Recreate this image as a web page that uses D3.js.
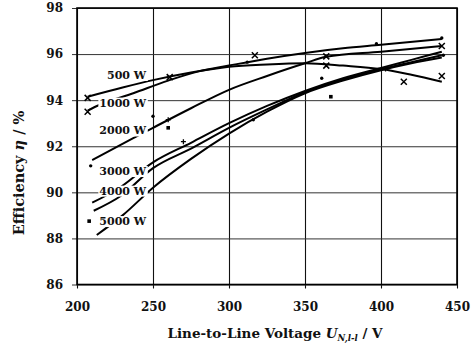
<!DOCTYPE html>
<html>
<head>
<meta charset="utf-8">
<script src="https://cdn.jsdelivr.net/npm/d3@7"></script>
<style>
  body { margin: 0; background: #fff; }
  text { font-family: "DejaVu Serif", "Liberation Serif", serif; }
</style>
</head>
<body>
<div id="chart"></div>
<script>
// efficiency curves, [line-to-line voltage V, efficiency %]
const load500 = [[207, 94.15], [230, 94.55], [250, 94.87], [275, 95.2], [300, 95.45], [325, 95.55], [350, 95.6], [375, 95.5], [400, 95.35], [420, 95.1], [440, 94.8]];
const load1000 = [[207, 93.55], [215, 93.8], [237, 94.3], [260, 94.85], [280, 95.25], [300, 95.5], [325, 95.8], [350, 96.05], [375, 96.25], [400, 96.4], [440, 96.65]];
const load2000 = [[210, 91.4], [237, 92.35], [250, 92.8], [275, 93.65], [300, 94.45], [325, 95.05], [350, 95.6], [364, 95.88], [400, 96.1], [440, 96.35]];
const load3000 = [[210, 89.55], [228, 90.2], [250, 91.3], [275, 92.15], [300, 93.0], [325, 93.75], [350, 94.4], [375, 94.95], [400, 95.4], [420, 95.75], [440, 96.1]];
const load4000 = [[211, 89.2], [229, 89.85], [250, 91.05], [275, 91.9], [300, 92.8], [325, 93.6], [350, 94.35], [375, 94.9], [400, 95.35], [420, 95.65], [440, 95.95]];
const load5000 = [[213, 88.15], [230, 89.0], [250, 90.2], [275, 91.45], [300, 92.55], [325, 93.5], [350, 94.3], [375, 94.85], [400, 95.3], [420, 95.6], [440, 95.85]];

const loadNames = ["500 W", "1000 W", "2000 W", "3000 W", "4000 W", "5000 W"];

// measured points
const crossPts = [[207, 94.1], [207, 93.5], [261, 95.0], [317, 95.95], [364, 95.9], [364, 95.5], [415, 94.8], [440, 95.05], [440, 96.35]];
const dotPts = [[209, 91.15], [250, 93.3], [312, 95.65], [361, 94.95], [397, 96.45], [440, 96.7], [441, 95.95], [316, 93.15]];
const plusPts = [[260, 93.15], [270, 92.2], [403, 95.35]];
const squarePts = [[208, 88.75], [260, 92.8], [367, 94.15]];

const xTicks = [200, 250, 300, 350, 400, 450];
const yTicks = [86, 88, 90, 92, 94, 96, 98];

// where the curve names sit (right end of text, baseline) in data units
const labelAt = [[245.5, 94.92], [245.5, 93.72], [245.5, 92.51], [245.5, 90.75], [245.5, 89.9], [245.5, 88.58]];

const svgWidth = 471;
const svgHeight = 347;
const margin = { top: 8, right: 14, bottom: 62.5, left: 77 };
const width = svgWidth - margin.left - margin.right;
const height = svgHeight - margin.top - margin.bottom;

const svg = d3.select("#chart")
    .append("svg")
    .attr("width", svgWidth)
    .attr("height", svgHeight)
    .append("g")
    .attr("transform", "translate(" + margin.left + "," + margin.top + ")");

const xScale = d3.scaleLinear().domain([200, 450]).range([0, width]);
const yScale = d3.scaleLinear().domain([86, 98]).range([height, 0]);

// grid
svg.append("g")
    .attr("transform", "translate(0," + height + ")")
    .call(d3.axisBottom(xScale).tickValues(xTicks).tickSize(4).tickSizeOuter(0).tickFormat(""))
    .call(g => g.select(".domain").remove())
    .selectAll("line")
    .attr("y1", 4).attr("y2", -height)
    .attr("stroke", "#111").attr("stroke-width", 1.1);

svg.append("g")
    .call(d3.axisLeft(yScale).tickValues(yTicks).tickSize(5).tickFormat(""))
    .call(g => g.select(".domain").remove())
    .selectAll("line")
    .attr("x1", -5).attr("x2", width)
    .attr("stroke", "#333").attr("stroke-width", 1);

// frame
svg.append("rect")
    .attr("x", 0).attr("y", 0)
    .attr("width", width).attr("height", height)
    .attr("fill", "none")
    .attr("stroke", "#000")
    .attr("stroke-width", 1.6);

// tick labels
svg.append("g")
    .attr("transform", "translate(0," + height + ")")
    .call(d3.axisBottom(xScale).tickValues(xTicks).tickSize(0).tickPadding(18))
    .call(g => g.select(".domain").remove())
    .selectAll("text")
    .attr("font-family", "DejaVu Serif")
    .attr("font-size", 12)
    .attr("font-weight", "bold")
    .attr("fill", "#111");

svg.append("g")
    .call(d3.axisLeft(yScale).tickValues(yTicks).tickSize(0).tickPadding(14))
    .call(g => g.select(".domain").remove())
    .selectAll("text")
    .attr("font-family", "DejaVu Serif")
    .attr("font-size", 12)
    .attr("font-weight", "bold")
    .attr("fill", "#111");

// curves
const line = d3.line()
    .x(d => xScale(d[0]))
    .y(d => yScale(d[1]))
    .curve(d3.curveMonotoneX);

const curves = [load500, load1000, load2000, load3000, load4000, load5000];
svg.selectAll("path.curve")
    .data(curves)
    .enter().append("path")
    .attr("class", "curve")
    .attr("d", line)
    .attr("fill", "none")
    .attr("stroke", "#000")
    .attr("stroke-width", 2);

// markers
svg.selectAll("path.cross")
    .data(crossPts)
    .enter().append("path")
    .attr("class", "cross")
    .attr("d", d => {
        const x = xScale(d[0]), y = yScale(d[1]);
        return "M" + (x - 3) + "," + (y - 3) + "L" + (x + 3) + "," + (y + 3) +
            "M" + (x - 3) + "," + (y + 3) + "L" + (x + 3) + "," + (y - 3);
    })
    .attr("stroke", "#000")
    .attr("stroke-width", 1.5);

svg.selectAll("path.plus")
    .data(plusPts)
    .enter().append("path")
    .attr("class", "plus")
    .attr("d", d => {
        const x = xScale(d[0]), y = yScale(d[1]);
        return "M" + (x - 2.5) + "," + y + "L" + (x + 2.5) + "," + y +
            "M" + x + "," + (y - 2.5) + "L" + x + "," + (y + 2.5);
    })
    .attr("stroke", "#000")
    .attr("stroke-width", 1.3);

svg.selectAll("circle.dot")
    .data(dotPts)
    .enter().append("circle")
    .attr("class", "dot")
    .attr("cx", d => xScale(d[0]))
    .attr("cy", d => yScale(d[1]))
    .attr("r", 1.7)
    .attr("fill", "#000");

svg.selectAll("rect.sq")
    .data(squarePts)
    .enter().append("rect")
    .attr("class", "sq")
    .attr("x", d => xScale(d[0]) - 1.8)
    .attr("y", d => yScale(d[1]) - 1.8)
    .attr("width", 3.6)
    .attr("height", 3.6)
    .attr("fill", "#000");

// curve names, on white so the curves break around them
const labels = svg.selectAll("g.lbl")
    .data(loadNames)
    .enter().append("g")
    .attr("class", "lbl")
    .attr("transform", (d, i) => "translate(" + xScale(labelAt[i][0]) + "," + yScale(labelAt[i][1]) + ")");

labels.append("text")
    .attr("text-anchor", "end")
    .attr("font-size", 11)
    .attr("font-weight", "bold")
    .attr("fill", "#111")
    .text(d => d)
    .each(function () {
        const b = this.getBBox();
        d3.select(this.parentNode).insert("rect", "text")
            .attr("x", b.x - 1).attr("y", b.y + 1)
            .attr("width", b.width + 2).attr("height", b.height - 2)
            .attr("fill", "#fff");
    });

// axis titles
const xTitle = svg.append("text")
    .attr("x", 198)
    .attr("y", height + 53)
    .attr("text-anchor", "middle")
    .attr("font-size", 13.5)
    .attr("font-weight", "bold")
    .attr("fill", "#111");
xTitle.append("tspan").text("Line-to-Line Voltage ");
xTitle.append("tspan").attr("font-style", "italic").text("U");
xTitle.append("tspan").attr("font-style", "italic").attr("font-size", 8.5).attr("dy", 3).text("N,l-l");
xTitle.append("tspan").attr("dy", -3).text(" / V");

const yTitle = svg.append("text")
    .attr("transform", "translate(-53," + 165 + ") rotate(-90)")
    .attr("text-anchor", "middle")
    .attr("font-size", 14.5)
    .attr("font-weight", "bold")
    .attr("fill", "#111");
yTitle.append("tspan").text("Efficiency ");
yTitle.append("tspan").attr("font-style", "italic").text("η");
yTitle.append("tspan").text(" / %");
</script>
</body>
</html>
